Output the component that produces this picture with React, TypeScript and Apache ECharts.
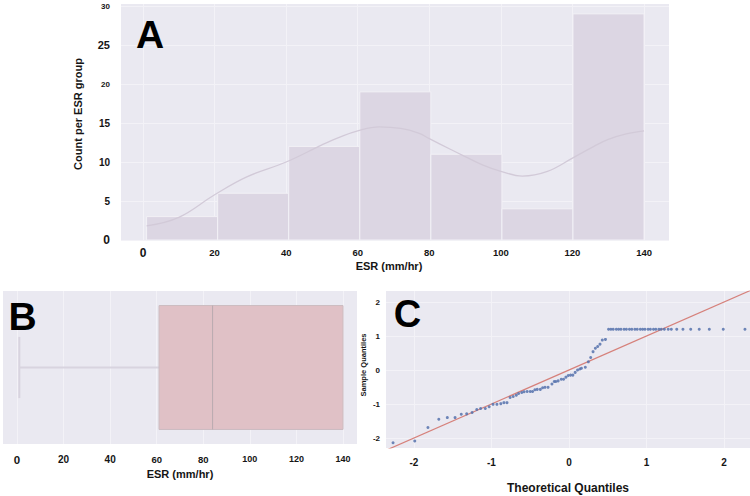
import React, { useEffect, useRef } from "react";
import * as echarts from "echarts";

// ---------- Panel A: histogram of ESR ----------
const binEdges = [1, 20.86, 40.71, 60.57, 80.43, 100.29, 120.14, 140];
const binCounts = [3, 6, 12, 19, 11, 4, 29];
const kdeX = [1, 10, 20, 29, 40, 50, 55, 60, 66, 72, 77, 80, 86, 90, 95, 100, 106, 113, 120, 126, 130, 135, 140];
const kdeY = [1.8, 2.9, 5.8, 8.1, 10.0, 12.2, 13.2, 14.0, 14.5, 14.3, 13.7, 13.0, 11.6, 10.7, 9.6, 8.8, 8.2, 8.8, 10.5, 12.0, 12.9, 13.6, 14.0];
const histXTicks = [0, 20, 40, 60, 80, 100, 120, 140];
const histYTicks = [0, 5, 10, 15, 20, 25, 30];

// ---------- Panel B: box plot of ESR ----------
const boxCategory = ["ESR"];
const boxValues = [1, 61, 84, 140, 140]; // min, Q1, median, Q3, max
const boxXTicks = [0, 20, 40, 60, 80, 100, 120, 140];

// ---------- Panel C: Q-Q plot ----------
const qqTheoretical = [
  -2.27, -1.99, -1.82, -1.68, -1.57, -1.47, -1.39, -1.32, -1.25, -1.19,
  -1.14, -1.08, -1.03, -0.98, -0.93, -0.88, -0.84, -0.80, -0.76, -0.72,
  -0.68, -0.65, -0.61, -0.58, -0.54, -0.50, -0.47, -0.44, -0.41, -0.37,
  -0.34, -0.31, -0.27, -0.22, -0.19, -0.17, -0.14, -0.10, -0.07, -0.04,
  -0.01, 0.02, 0.05, 0.08, 0.11, 0.14, 0.16, 0.21, 0.25, 0.28,
  0.31, 0.34, 0.37, 0.40, 0.43, 0.47,
  0.51, 0.54, 0.57, 0.61, 0.64, 0.67, 0.71, 0.74, 0.78, 0.81,
  0.85, 0.88, 0.92, 0.95, 0.98, 1.02, 1.05, 1.09, 1.12, 1.16,
  1.19, 1.23, 1.28, 1.32, 1.39, 1.47, 1.57, 1.68, 1.81, 1.99, 2.27,
];
const qqSample = [
  -2.14, -2.09, -1.69, -1.45, -1.40, -1.40, -1.30, -1.29, -1.25, -1.16,
  -1.13, -1.13, -1.08, -1.01, -1.01, -0.99, -0.96, -0.96, -0.81, -0.78,
  -0.74, -0.69, -0.66, -0.64, -0.63, -0.63, -0.63, -0.58, -0.57, -0.57,
  -0.52, -0.51, -0.51, -0.41, -0.34, -0.34, -0.32, -0.27, -0.27, -0.21,
  -0.16, -0.15, -0.15, -0.07, 0.0, 0.03, 0.05, 0.08, 0.24, 0.37,
  0.54, 0.64, 0.69, 0.76, 0.88, 0.90,
  1.2, 1.2, 1.2, 1.2, 1.2, 1.2, 1.2, 1.2, 1.2, 1.2,
  1.2, 1.2, 1.2, 1.2, 1.2, 1.2, 1.2, 1.2, 1.2, 1.2,
  1.2, 1.2, 1.2, 1.2, 1.2, 1.2, 1.2, 1.2, 1.2, 1.2, 1.2,
];
const qqLineEnds = [-2.5, 2.5];
const qqTicks = [-2, -1, 0, 1, 2];

// ---------- styles ----------
const FONT = "'Liberation Sans', Arial, Helvetica, sans-serif";
const BG = "#eae9f1";
const GRID_LINE = "#f3f2f7";
const LABEL_COLOR = "#151515";

const key = (s: number) => "s" + Math.round(s * 10);
const sizeRich = (sizes: number[]) => {
  const rich: Record<string, any> = {};
  sizes.forEach((s) => {
    rich[key(s)] = { fontSize: s, fontWeight: "bold", fontFamily: FONT, color: LABEL_COLOR };
  });
  return rich;
};
const histYSize: Record<number, number> = { 0: 12, 5: 10, 10: 10, 15: 10, 20: 8, 25: 11, 30: 8 };
const histXSize: Record<number, number> = { 0: 12, 20: 9.5, 40: 9.5, 60: 9.5, 80: 9.5, 100: 9.5, 120: 9.5, 140: 9.5 };
const boxXSize: Record<number, number> = { 0: 11.5, 20: 10, 40: 10, 60: 9.5, 80: 9.5, 100: 9, 120: 9, 140: 9 };

export default function App() {
  const ref = useRef<HTMLDivElement>(null);

  useEffect(() => {
    if (!ref.current) return;
    const chart = echarts.init(ref.current, undefined, { renderer: "svg" });

    const histData = binCounts.map((c, i) => [binEdges[i], binEdges[i + 1], c]);
    const kdeData = kdeX.map((x, i) => [x, kdeY[i]]);
    const qqData = qqTheoretical.map((x, i) => [x, qqSample[i]]);
    const qqLine = qqLineEnds.map((v) => [v, v]);

    const splitLine = { show: true, lineStyle: { color: GRID_LINE, width: 1 } };
    const gridBase = { show: true, backgroundColor: BG, borderWidth: 0, containLabel: false, outerBoundsMode: "none" };

    const option: any = {
      animation: false,
      backgroundColor: "#ffffff",
      grid: [
        { ...gridBase, left: 121, top: 4, width: 548, height: 236 },
        { ...gridBase, left: 3, top: 291, width: 354, height: 153 },
        { ...gridBase, left: 386, top: 291, width: 364, height: 157 },
      ],
      xAxis: [
        {
          type: "value", gridIndex: 0, min: -6.15, max: 146.97,
          axisLine: { show: false },
          axisTick: { show: false, customValues: histXTicks },
          axisLabel: {
            customValues: histXTicks, margin: 7,
            formatter: (v: number) => `{${key(histXSize[v] ?? 9.5)}|${v}}`,
            rich: sizeRich([12, 9.5]),
          },
          splitLine,
        },
        {
          type: "value", gridIndex: 1, min: -6.0, max: 146.0,
          axisLine: { show: false },
          axisTick: { show: false, customValues: boxXTicks },
          axisLabel: {
            customValues: boxXTicks, margin: 10,
            formatter: (v: number) => `{${key(boxXSize[v] ?? 9.5)}|${v}}`,
            rich: sizeRich([11.5, 10, 9.5, 9]),
          },
          splitLine,
        },
        {
          type: "value", gridIndex: 2, min: -2.361, max: 2.335,
          axisLine: { show: false },
          axisTick: { show: false, customValues: qqTicks },
          axisLabel: {
            customValues: qqTicks, margin: 9,
            fontSize: 10, fontWeight: "bold", fontFamily: FONT, color: LABEL_COLOR,
          },
          splitLine,
        },
      ],
      yAxis: [
        {
          type: "value", gridIndex: 0, min: 0, max: 30.26,
          axisLine: { show: false },
          axisTick: { show: false, customValues: histYTicks },
          axisLabel: {
            customValues: histYTicks, margin: 11,
            formatter: (v: number) => `{${key(histYSize[v] ?? 10)}|${v}}`,
            rich: sizeRich([12, 11, 10, 8]),
          },
          splitLine,
        },
        {
          type: "category", gridIndex: 1, data: boxCategory,
          axisLine: { show: false }, axisTick: { show: false }, axisLabel: { show: false },
          splitLine: { show: false },
        },
        {
          type: "value", gridIndex: 2, min: -2.294, max: 2.324,
          axisLine: { show: false },
          axisTick: { show: false, customValues: qqTicks },
          axisLabel: {
            customValues: qqTicks, margin: 6,
            fontSize: 8, fontWeight: "bold", fontFamily: FONT, color: LABEL_COLOR,
          },
          splitLine,
        },
      ],
      series: [
        {
          type: "custom", xAxisIndex: 0, yAxisIndex: 0,
          data: histData,
          encode: { x: [0, 1], y: 2 },
          renderItem: (_p: any, api: any) => {
            const p0 = api.coord([api.value(0), 0]);
            const p1 = api.coord([api.value(1), api.value(2)]);
            return {
              type: "rect",
              shape: { x: p0[0], y: p1[1], width: p1[0] - p0[0], height: p0[1] - p1[1] },
              style: { fill: "#dcd6e3", stroke: "#f2f1f6", lineWidth: 1 },
            };
          },
          z: 2,
        },
        {
          type: "line", xAxisIndex: 0, yAxisIndex: 0,
          data: kdeData, smooth: 0.4, showSymbol: false,
          lineStyle: { color: "#d2cad8", width: 1.3 },
          z: 3,
        },
        {
          type: "custom", xAxisIndex: 1, yAxisIndex: 1,
          data: [[0, ...boxValues]],
          encode: { y: 0, x: [1, 2, 3, 4, 5] },
          renderItem: (_p: any, api: any) => {
            const mn = api.value(1), q1 = api.value(2), med = api.value(3), q3 = api.value(4), mx = api.value(5);
            const band = api.size([0, 1])[1];
            const cy = api.coord([q1, 0])[1];
            const bh = band * 0.81;
            const ch = band * 0.4;
            const xMin = api.coord([mn, 0])[0];
            const xQ1 = api.coord([q1, 0])[0];
            const xMed = api.coord([med, 0])[0];
            const xQ3 = api.coord([q3, 0])[0];
            const xMax = api.coord([mx, 0])[0];
            const wStyle = { stroke: "#d8d4df", lineWidth: 2 };
            return {
              type: "group",
              children: [
                { type: "line", shape: { x1: xMin, y1: cy, x2: xQ1, y2: cy }, style: wStyle },
                { type: "line", shape: { x1: xMin, y1: cy - ch / 2, x2: xMin, y2: cy + ch / 2 }, style: wStyle },
                { type: "line", shape: { x1: xQ3, y1: cy, x2: xMax, y2: cy }, style: wStyle },
                {
                  type: "rect",
                  shape: { x: xQ1, y: cy - bh / 2, width: xQ3 - xQ1, height: bh },
                  style: { fill: "#e0c1c6", stroke: "#cbbcc1", lineWidth: 1 },
                },
                { type: "line", shape: { x1: xMed, y1: cy - bh / 2, x2: xMed, y2: cy + bh / 2 }, style: { stroke: "#b9aaaf", lineWidth: 1 } },
              ],
            };
          },
        },
        {
          type: "line", xAxisIndex: 2, yAxisIndex: 2,
          data: qqLine, showSymbol: false, clip: true,
          lineStyle: { color: "#d6817b", width: 1.2 },
          z: 2,
        },
        {
          type: "scatter", xAxisIndex: 2, yAxisIndex: 2,
          data: qqData, symbolSize: 3,
          itemStyle: { color: "#5672ad", opacity: 0.85 },
          z: 3,
        },
      ],
      graphic: [
        { type: "text", z: 100, x: 150, y: 34, style: { text: "A", font: `bold 39px ${FONT}`, fill: "#000", align: "center", verticalAlign: "middle" } },
        { type: "text", z: 100, x: 22.5, y: 316, style: { text: "B", font: `bold 39px ${FONT}`, fill: "#000", align: "center", verticalAlign: "middle" } },
        { type: "text", z: 100, x: 407.5, y: 314, style: { text: "C", font: `bold 38px ${FONT}`, fill: "#000", align: "center", verticalAlign: "middle" } },
        { type: "text", z: 100, x: 78, y: 114, rotation: Math.PI / 2, style: { text: "Count per ESR group", font: `bold 11px ${FONT}`, fill: LABEL_COLOR, align: "center", verticalAlign: "middle" } },
        { type: "text", z: 100, x: 389, y: 266, style: { text: "ESR (mm/hr)", font: `bold 11px ${FONT}`, fill: LABEL_COLOR, align: "center", verticalAlign: "middle" } },
        { type: "text", z: 100, x: 180, y: 474, style: { text: "ESR (mm/hr)", font: `bold 11px ${FONT}`, fill: LABEL_COLOR, align: "center", verticalAlign: "middle" } },
        { type: "text", z: 100, x: 568, y: 488, style: { text: "Theoretical Quantiles", font: `bold 12px ${FONT}`, fill: LABEL_COLOR, align: "center", verticalAlign: "middle" } },
        { type: "text", z: 100, x: 363, y: 365, rotation: Math.PI / 2, style: { text: "Sample Quantiles", font: `bold 7.5px ${FONT}`, fill: LABEL_COLOR, align: "center", verticalAlign: "middle" } },
      ],
    };

    chart.setOption(option);
    return () => chart.dispose();
  }, []);

  return (
    <div
      ref={ref}
      style={{ position: "fixed", left: 0, top: 0, width: 750, height: 496, background: "#fff" }}
    />
  );
}
